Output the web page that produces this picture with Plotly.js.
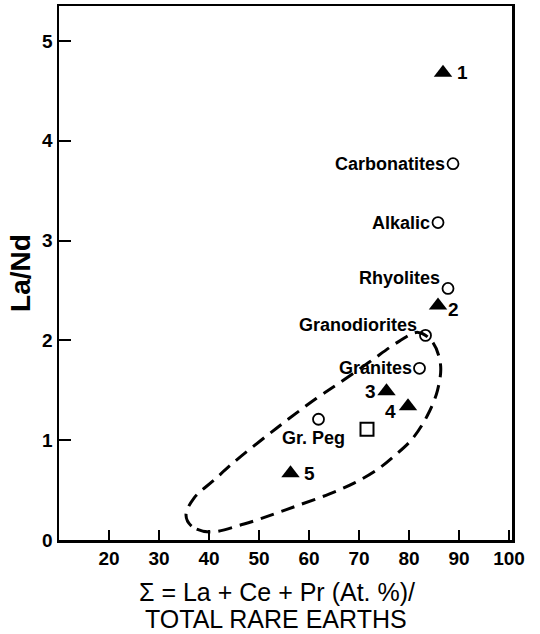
<!DOCTYPE html>
<html>
<head>
<meta charset="utf-8">
<script src="https://cdn.plot.ly/plotly-3.0.1.min.js"></script>
<style>html,body{margin:0;padding:0;background:#fff}#chart{width:540px;height:634px}</style>
</head>
<body>
<div id="chart"></div>
<script>
// Filled triangles (numbered samples)
const triX = [86.8, 85.8, 75.5, 79.8, 56.3];
const triY = [4.68, 2.35, 1.49, 1.34, 0.67];
const triLabels = ['1', '2', '3', '4', '5'];

// Open circles (rock types)
const circX = [88.8, 85.8, 87.8, 83.3, 82.1, 61.9];
const circY = [3.77, 3.18, 2.52, 2.05, 1.72, 1.21];
const circLabels = ['Carbonatites', 'Alkalic', 'Rhyolites', 'Granodiorites', 'Granites', 'Gr. Peg'];

// Open square
const sqX = [71.6];
const sqY = [1.11];

// Dashed field outline
const fieldX = [40.1, 36.5, 35.4, 37.0, 41.0, 45.0, 53.5, 61.5, 66.0, 72.0, 78.0, 81.8, 84.6, 86.3, 85.7, 83.6, 80.6, 77.0, 73.5, 69.0, 64.0, 58.0, 53.0, 47.0, 40.1];
const fieldY = [0.08, 0.14, 0.25, 0.42, 0.60, 0.78, 1.12, 1.42, 1.57, 1.78, 1.99, 2.08, 1.99, 1.76, 1.50, 1.24, 1.01, 0.84, 0.70, 0.57, 0.46, 0.35, 0.26, 0.16, 0.08];

const xTicks = [20, 30, 40, 50, 60, 70, 80, 90, 100];
const yTicks = [0, 1, 2, 3, 4, 5];

const traces = [
  {x: fieldX, y: fieldY, mode: 'lines', line: {color: '#000', width: 3, dash: '14px,8px', shape: 'spline', smoothing: 1}, hoverinfo: 'skip'},
  {x: triX, y: triY, mode: 'markers', marker: {symbol: 'triangle-up', size: 16, color: '#000'}},
  {x: circX, y: circY, mode: 'markers', marker: {symbol: 'circle-open', size: 11, color: '#000', line: {width: 1.8}}},
  {x: sqX, y: sqY, mode: 'markers', marker: {symbol: 'square-open', size: 13, color: '#000', line: {width: 2}}}
];

const labFont = {family: 'Liberation Sans, Arial, sans-serif', size: 18, color: '#000', weight: 'bold'};
const numFont = {family: 'Liberation Sans, Arial, sans-serif', size: 19, color: '#000', weight: 'bold'};
const triStyle = [
  {xanchor: 'left', xshift: 12, yshift: 0},
  {xanchor: 'left', xshift: 8, yshift: -4},
  {xanchor: 'right', xshift: -9, yshift: 0},
  {xanchor: 'right', xshift: -10, yshift: -5},
  {xanchor: 'left', xshift: 11, yshift: 0}
];
const circStyle = [
  {xanchor: 'right', xshift: -6, yshift: 0},
  {xanchor: 'right', xshift: -6, yshift: 0},
  {xanchor: 'right', xshift: -6, yshift: 10},
  {xanchor: 'right', xshift: -7, yshift: 10},
  {xanchor: 'right', xshift: -6, yshift: 0},
  {xanchor: 'center', xshift: -5, yshift: -19}
];

const annotations = [];
triLabels.forEach((t, i) => annotations.push(Object.assign({x: triX[i], y: triY[i], text: t, showarrow: false, yanchor: 'middle', font: numFont}, triStyle[i])));
circLabels.forEach((t, i) => annotations.push(Object.assign({x: circX[i], y: circY[i], text: t, showarrow: false, yanchor: 'middle', font: labFont}, circStyle[i])));

const titleFont = {family: 'Liberation Sans, Arial, sans-serif', size: 25, color: '#000'};
annotations.push({xref: 'paper', yref: 'paper', x: 0.482, y: 0, yshift: -52, yanchor: 'middle', xanchor: 'center', showarrow: false, text: 'Σ = La + Ce + Pr (At. %)/', font: titleFont});
annotations.push({xref: 'paper', yref: 'paper', x: 0.479, y: 0, yshift: -79, yanchor: 'middle', xanchor: 'center', showarrow: false, text: 'TOTAL RARE EARTHS', font: titleFont});

const tickFont = {family: 'Liberation Sans, Arial, sans-serif', size: 19, color: '#000', weight: 'bold'};
const layout = {
  width: 540, height: 634,
  margin: {l: 59, r: 28, t: 6, b: 94, pad: 0},
  paper_bgcolor: '#fff', plot_bgcolor: '#fff',
  showlegend: false,
  xaxis: {range: [10, 100.6], tickvals: xTicks, ticks: 'inside', ticklen: 10, tickwidth: 2, tickcolor: '#000',
          showline: true, linecolor: '#000', linewidth: 2.5, mirror: true, showgrid: false, zeroline: false,
          tickfont: tickFont},
  yaxis: {range: [0, 5.35], tickvals: yTicks, ticks: 'inside', ticklen: 12, tickwidth: 2, tickcolor: '#000',
          showline: true, linecolor: '#000', linewidth: 2.5, mirror: true, showgrid: false, zeroline: false,
          tickfont: tickFont,
          title: {text: 'La/Nd', font: {family: 'Liberation Sans, Arial, sans-serif', size: 28, color: '#000', weight: 'bold'}, standoff: 4}},
  annotations: annotations
};

Plotly.newPlot('chart', traces, layout, {displayModeBar: false, staticPlot: true});
</script>
</body>
</html>
